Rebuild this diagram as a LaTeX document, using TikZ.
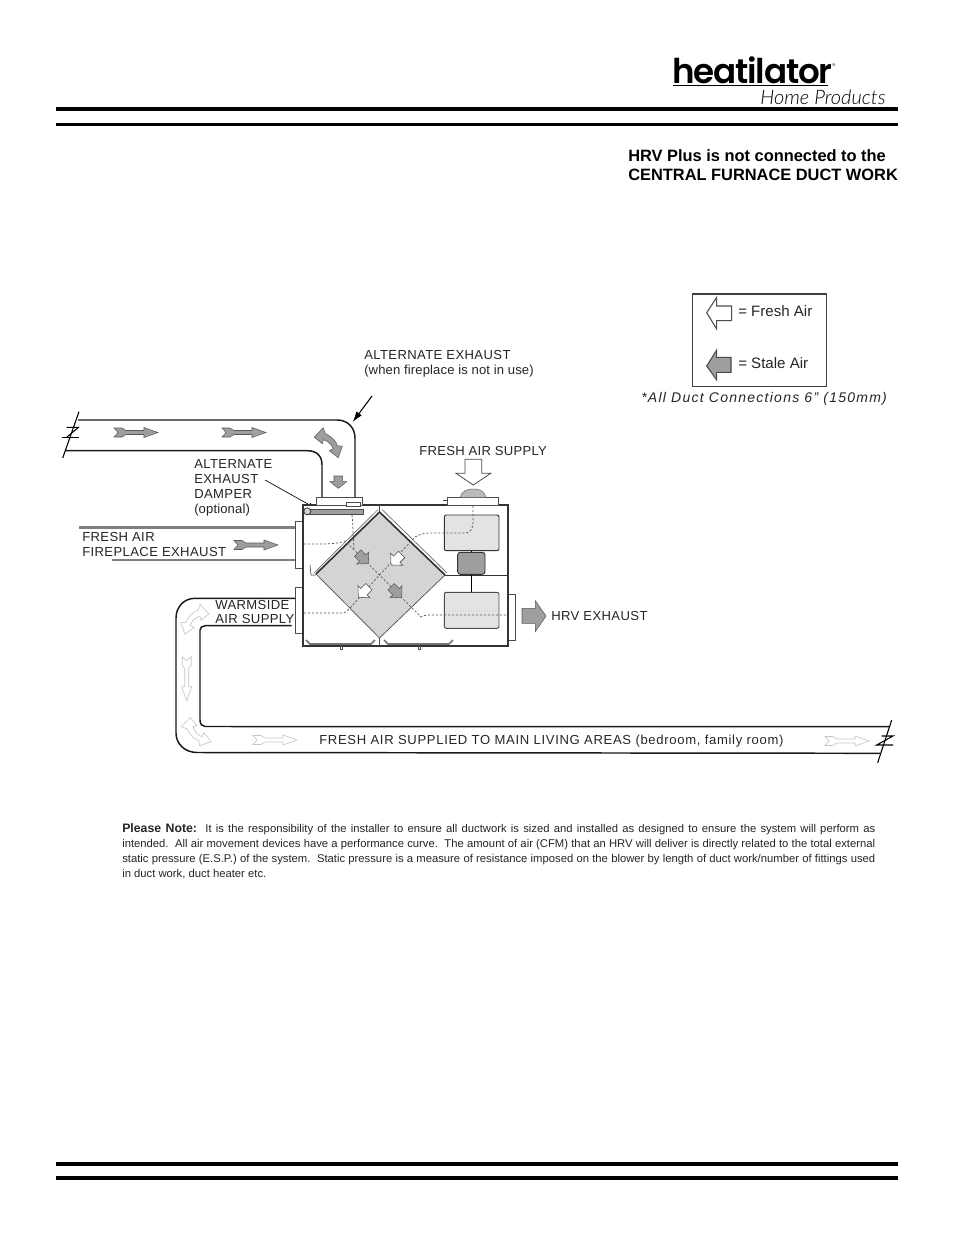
\documentclass[tikz,border=0pt]{standalone}
\usepackage{fontspec}
\setmainfont{Liberation Sans}
\newfontfamily\logofont{Poppins}[BoldFont={Poppins SemiBold}]
\newfontfamily\scriptlike{Lato Light}[ItalicFont={Lato Light Italic}]
\usetikzlibrary{arrows.meta}
\definecolor{midgray}{gray}{0.62}
\definecolor{lightfill}{gray}{0.83}
\definecolor{palefill}{gray}{0.89}
\definecolor{dashgray}{gray}{0.35}
\definecolor{ghost}{gray}{0.78}
\newcommand{\fs}[2]{\fontsize{#1}{#2}\selectfont}
\tikzset{
  x=0.75pt,y=-0.75pt,
  lbl/.style={inner sep=0pt,anchor=base west,text=black!85,font=\fs{9.8}{11}\addfontfeature{LetterSpace=3}},
  lowlbl/.style={lbl,font=\fs{9.8}{11}\addfontfeature{LetterSpace=1}},
  rulethick/.style={line width=3pt,black},
  duct/.style={line width=1.1pt,black!90},
  thin outline/.style={draw=black!70,line width=0.5pt},
  unit/.style={draw=black!80,line width=0.8pt},
  flow/.style={draw=black!65,fill=midgray,line width=0.4pt},
  ghostflow/.style={draw=ghost,fill=white,line width=0.5pt},
  airpath/.style={densely dashed,dash pattern=on 1.6pt off 1.4pt,draw=dashgray,line width=0.55pt},
  feather/.pic={\path[pic actions] (0,-4.5)--(8,-4.5)--(12,-2)--(30,-2)--(30,-5)--(44,0)--(30,5)--(30,2)--(12,2)--(8,4.5)--(0,4.5)--(4,0)--cycle;},
  chunky/.pic={\path[pic actions] (-7,-4.5)--(0,-4.5)--(0,-8.5)--(8,0)--(0,8.5)--(0,4.5)--(-7,4.5)--cycle;},
  bendflow/.pic={\path[pic actions] (-14,-4.5)--(-5,-14)--(-3,-8) .. controls (4,-5) and (8,0) .. (9,4)--(14,4.5)--(10,16)--(1,9)--(5,7) .. controls (3,2) and (-1,-1) .. (-5,-2)--(-6,2)--cycle;},
  bendswap/.pic={\path[pic actions] (-4.5,-14)--(-14,-5)--(-8,-3) .. controls (-5,4) and (0,8) .. (4,9)--(4.5,14)--(16,10)--(9,1)--(7,5) .. controls (2,3) and (-1,-1) .. (-2,-5)--(2,-6)--cycle;},
}
\begin{document}
\begin{tikzpicture}
\useasboundingbox (0,0) rectangle (954,1235);
\fill[white] (0,0) rectangle (954,1235);

% page rules
\draw[rulethick] (56,109) -- coordinate (ruleA) (898,109);
\draw[line width=2.4pt,black] (56,124.7) -- coordinate (ruleB) (898,124.7);
\draw[rulethick] (56,1164) -- coordinate (ruleC) (898,1164);
\draw[line width=2.6pt,black] (56,1178) -- coordinate (ruleD) (898,1178);

% logo
\node[inner sep=0pt,anchor=base west] (logoA) at (672,83) {\logofont\bfseries\fs{25.6}{27}\addfontfeature{LetterSpace=-3.5}heatilator};
\draw[line width=0.7pt,black] (673,85.5) -- (828,85.5);
\draw[line width=0.6pt,black] (673,107) -- (885,107);
\node[inner sep=0pt,anchor=base west] (logoB) at (760,104) {\scriptlike\itshape\fs{15}{15}Home Products};
\node[inner sep=0pt,anchor=base west] (logoR) at (832,66) {\fs{3}{3}®};

% heading
\node[lbl,text=black,font=\bfseries\fs{12.3}{13}] (headA) at (628,161) {HRV Plus is not connected to the};
\node[lbl,text=black,font=\bfseries\fs{12.3}{13}] (headB) at (628,180) {CENTRAL FURNACE DUCT WORK};

% legend
\draw[line width=0.8pt,black!75] (692.7,294) rectangle (826.7,386.7);
\draw[thin outline,fill=white,line width=0.8pt] (706.7,312.7)--(716.7,297.3)--(716.7,306)--(731.7,306)--(731.7,320.7)--(716.7,320.7)--(716.7,329)--cycle;
\draw[thin outline,fill=midgray,line width=0.8pt] (706.7,366)--(716.7,350)--(716.7,357.3)--(731,357.3)--(731,372.3)--(716.7,372.3)--(716.7,380)--cycle;
\node[lbl,font=\fs{11.3}{12}] (legA) at (738,316.5) {= Fresh Air};
\node[lbl,font=\fs{11.3}{12}] (legB) at (738,368) {= Stale Air};
\node[lbl,font=\itshape\fs{10.5}{11}] (legC) at (641,402) {\addfontfeature{LetterSpace=9}*All Duct Connections 6" (150mm)};

% alternate exhaust label and pointer
\node[lbl] (altA) at (364,359) {ALTERNATE EXHAUST};
\node[lowlbl] (altB) at (364,374) {(when fireplace is not in use)};
\coordinate (altTail) at (372,396);
\coordinate (altTip) at (352.7,422);
\draw[line width=0.8pt,-{Latex[length=8pt,width=5pt]}] (altTail) -- (altTip);

% top exhaust duct
\draw[duct] (78,420) -- (337,420) .. controls (348,420) and (355,428) .. (355,438) -- (355,497);
\draw[duct] (65,450.7) -- (307,450.7) .. controls (317,450.7) and (322,456) .. (322,465) -- (322,497);
\draw[line width=0.8pt] (79,411.7) -- (62.7,458);
\draw[line width=0.8pt] (66.7,437.3) -- (78.5,427.3) -- (66.5,427.3);
\draw[line width=0.8pt] (62,437.3) -- (78.5,437.3);
\pic[flow] at (114,432.5) {feather};
\pic[flow] at (222,432.5) {feather};
\pic[flow] at (328.3,441.7) {bendflow};
\draw[flow] (334,476)--(342.7,476)--(342.7,481.7)--(346.7,481.7)--(338.3,488.3)--(330,481.7)--(334,481.7)--cycle;

% damper label
\node[lbl] (dmpA) at (194,468.5) {ALTERNATE};
\node[lbl] (dmpB) at (194,483.5) {EXHAUST};
\node[lbl] (dmpC) at (194,498) {DAMPER};
\node[lowlbl] (dmpD) at (194,513) {(optional)};
\coordinate (dmpTail) at (265,480);
\coordinate (dmpTip) at (315,508);
\draw[line width=0.5pt,-{Latex[length=5pt,width=3.5pt]}] (dmpTail) -- (dmpTip);

% fireplace exhaust
\draw[line width=2.2pt,black!50] (79,527.7) -- (295.3,527.7);
\draw[line width=2.2pt,black!50] (111.7,560) -- (295.3,560);
\node[lbl] (fpA) at (82,541.5) {FRESH AIR};
\node[lbl] (fpB) at (82,556) {FIREPLACE EXHAUST};
\pic[flow] at (234,545) {feather};

% HRV body
\draw[thin outline,fill=white] (295.3,521.7) rectangle (303,568);
\draw[thin outline,fill=white] (295.3,587.3) rectangle (303,633.3);
\draw[thin outline,fill=white] (507.7,594) rectangle (515.7,640);
\draw[unit,fill=white,line width=1pt] (303,505) rectangle (508,646);
\draw[line width=0.7pt,black!80] (445,575) -- (508,575);
\draw[line width=0.6pt,black!70] (379.5,505) -- (379.5,512);
\draw[line width=0.6pt,black!70] (379.5,638) -- (379.5,646);
% collars
\draw[thin outline,fill=white] (316,497.3) rectangle (362.3,505);
\draw[thin outline,fill=white] (346,502.7) rectangle (360,506);
\draw[thin outline,fill=white] (447.7,497.3) rectangle (498.3,505);
\draw[line width=0.5pt,black!70] (443,500) -- (447.7,500);
\draw[draw=black!60,fill=midgray!70,line width=0.4pt] (460,497.3) .. controls (462,491) and (467,489) .. (473.3,489) .. controls (480,489) and (484,491) .. (486,497.3) -- cycle;
% damper
\draw[draw=black!70,fill=midgray,line width=0.5pt] (307,509.3) rectangle (363.3,514.3);
\draw[draw=black!80,fill=lightfill,line width=0.6pt] (307.3,511.3) circle[radius=3.5];
% exchanger core
\draw[black!70,line width=0.5pt,fill=lightfill] (379.5,512) -- (445,575) -- (379.5,638) -- (316,574) -- cycle;
\draw[line width=1.2pt,black!80] (316,574) -- (379.5,512) -- (445,575);
\draw[line width=0.5pt,black!60] (314,573) -- (378,509.5);
\draw[line width=0.5pt,black!60] (382,509.5) -- (447,573);
\draw[line width=0.5pt,black!70] (310,565) -- (311,575) -- (316,575);
% fan boxes
\draw[draw=black!80,fill=palefill,line width=0.7pt,rounded corners=1.5pt] (444.3,515) rectangle (499,550.7);
\draw[draw=black!70,fill=palefill,line width=0.7pt,rounded corners=1.5pt] (444.3,592.3) rectangle (499,628.3);
\draw[draw=black!80,fill=midgray,line width=0.7pt,rounded corners=2pt] (457.7,552.3) rectangle (485,574.3);
\draw[line width=0.6pt] (471.3,550.7) -- (471.3,552.3);
\draw[line width=0.7pt] (471.3,575) -- (471.3,592.3);
% air paths
\draw[airpath] (304,544) -- (322,544) .. controls (332,544) and (340,543) .. (345,541) -- (379.5,575) -- (421,617) .. controls (424,615) and (428,615) .. (432,615) -- (506,615);
\draw[airpath] (304,613) -- (340,613) .. controls (345,613) and (347,612) .. (350,608) -- (379.5,575) -- (415,537) .. controls (420,534) and (425,533) .. (430,533) -- (465,533) .. controls (471,533) and (473,528) .. (473,522) -- (473,506);
\draw[airpath] (352,515) .. controls (353,525) and (353,535) .. (354,550);
% core arrows
\pic[flow,rotate=-45] at (362.7,558) {chunky};
\pic[draw=black!70,fill=white,line width=0.4pt,rotate=-135] at (396.7,559.3) {chunky};
\pic[draw=black!70,fill=white,line width=0.4pt,rotate=-135] at (364,591.7) {chunky};
\pic[flow,rotate=-45] at (396,591.7) {chunky};
% bottom trays
\draw[draw=black!55,line width=1.2pt] (306,640) -- (310,644) -- (371,644) -- (375,640);
\draw[draw=black!55,line width=1.2pt] (384,640) -- (388,644) -- (449,644) -- (453,640);
\draw[line width=0.5pt,black!70] (340,646) rectangle (342.6,649.5);
\draw[line width=0.5pt,black!70] (418,646) rectangle (420.6,649.5);

% fresh supply arrow
\node[lbl,font=\fs{9.8}{11}\addfontfeature{LetterSpace=2.2}] (supA) at (419,455) {FRESH AIR SUPPLY};
\draw[draw=black!70,fill=white,line width=0.6pt] (465,459.3)--(481.7,459.3)--(481.7,473.3)--(490.7,473.3)--(473.3,485)--(456,473.3)--(465,473.3)--cycle;

% exhaust arrow
\draw[flow] (522,608.3)--(535.3,608.3)--(535.3,600.7)--(546,616)--(535.3,631.7)--(535.3,623.3)--(522,623.3)--cycle;
\node[lbl] (hrvA) at (551,620) {HRV EXHAUST};

% supply duct
\draw[duct] (295,598.3) -- (195,598.3) .. controls (184,598.3) and (176,607) .. (176,618) -- (176,733) .. controls (176,744) and (185,752.5) .. (197,752.5) -- (880,753.3);
\draw[duct] (291.7,625.7) -- (205,625.7) .. controls (202,625.7) and (200,628) .. (200,630) -- (200,720) .. controls (200,724) and (202,726.5) .. (205,726.5) -- (890,726.7);
\draw[line width=0.8pt] (891.7,720) -- (877.7,762.7);
\draw[line width=0.8pt] (881.7,736) -- (893,736) -- (876.7,745) -- (893,745);
\node[lbl] (wsA) at (215,609) {WARMSIDE};
\node[lbl] (wsB) at (215,623) {AIR SUPPLY};
\node[lbl,font=\fs{9.8}{11}\addfontfeature{LetterSpace=5.2}] (mainA) at (319,744) {FRESH AIR SUPPLIED TO MAIN LIVING AREAS (bedroom, family room)};
\pic[ghostflow,xscale=-1] at (195,618.3) {bendflow};
\pic[ghostflow,rotate=-90] at (186.7,656.7) {feather};
\pic[ghostflow] at (195,731.7) {bendswap};
\pic[ghostflow] at (253,740) {feather};
\pic[ghostflow] at (825,741) {feather};

% note
\newcommand{\noteline}[1]{\hbox to 564.75pt{\fs{8.45}{10}#1}}
\node[lbl,font=\fs{8.45}{10}] (noteA) at (122,832) {\noteline{{\bfseries\fs{9.2}{10}Please Note:}\hspace{1.5pt} It is the responsibility of the installer to ensure all ductwork is sized and installed as designed to ensure the system will perform as}};
\node[lbl,font=\fs{8.45}{10}] (noteB) at (122,847) {\noteline{intended.\hspace{1.5pt} All air movement devices have a performance curve.\hspace{1.5pt} The amount of air (CFM) that an HRV will deliver is directly related to the total external}};
\node[lbl,font=\fs{8.45}{10}] (noteC) at (122,862) {\noteline{static pressure (E.S.P.) of the system.\hspace{1.5pt} Static pressure is a measure of resistance imposed on the blower by length of duct work/number of fittings used}};
\node[lbl,font=\fs{8.45}{10}] (noteD) at (122,877) {in duct work, duct heater etc.};
\end{tikzpicture}
\end{document}
